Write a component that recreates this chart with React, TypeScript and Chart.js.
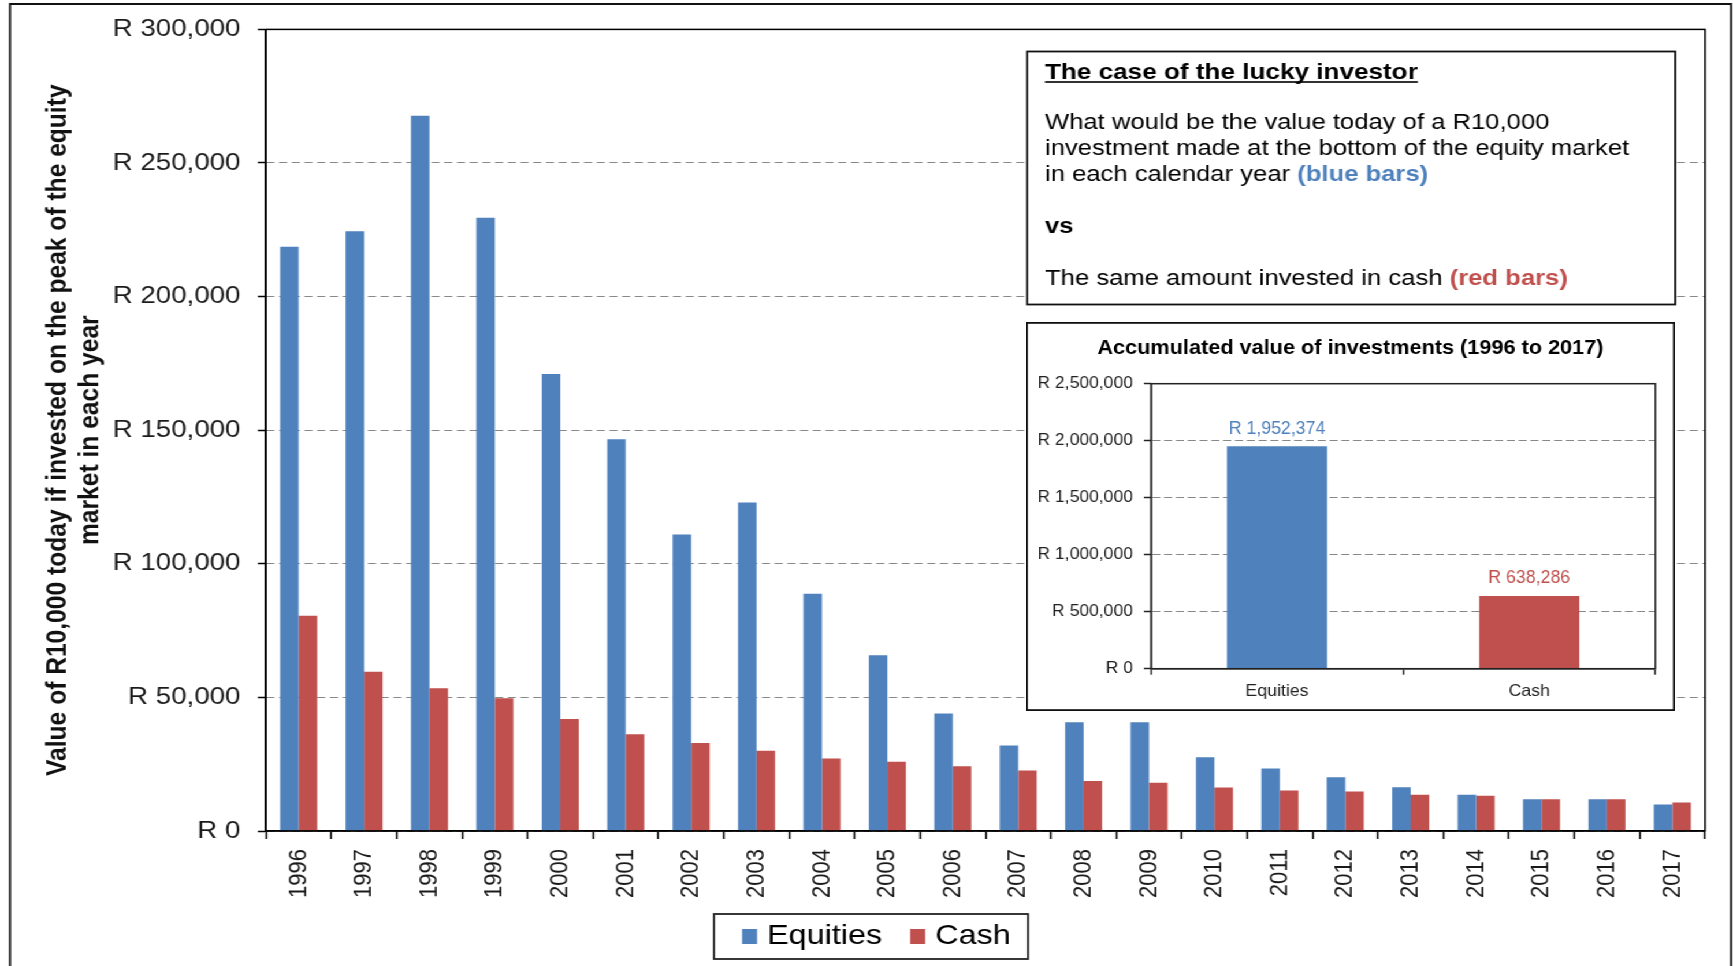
import React, { useEffect, useRef } from 'react';
import { Chart, registerables } from 'chart.js';

Chart.register(...registerables);

// ---------- data ----------
const years = ['1996', '1997', '1998', '1999', '2000', '2001', '2002', '2003', '2004', '2005', '2006',
  '2007', '2008', '2009', '2010', '2011', '2012', '2013', '2014', '2015', '2016', '2017'];
const equities = [218700, 224500, 267700, 229500, 171000, 146600, 111000, 122900, 88800, 65800, 44000,
  32000, 40700, 40700, 27600, 23400, 20100, 16400, 13600, 11900, 11900, 9900];
const cash = [80600, 59600, 53400, 49700, 41900, 36200, 32900, 30000, 27100, 25900, 24200,
  22600, 18700, 18100, 16300, 15200, 14800, 13600, 13200, 11900, 11900, 10700];
const seriesNames = ['Equities', 'Cash'];
const seriesColors = ['#4F81BD', '#C0504D'];
const yMax = 300000;
const yStep = 50000;
const yTitle = ['Value of R10,000 today if invested on the peak of the equity', 'market in each year'];

const totalCategories = ['Equities', 'Cash'];
const totalValues = [1952374, 638286];
const totalMax = 2500000;
const totalStep = 500000;
const insetTitle = 'Accumulated value of investments (1996 to 2017)';

const boxTitle = 'The case of the lucky investor';
const boxLines = ['What would be the value today of a R10,000', 'investment made at the bottom of the equity market'];
const boxLine3 = 'in each calendar year ';
const boxBlue = '(blue bars)';
const boxVs = 'vs';
const boxLast = 'The same amount invested in cash ';
const boxRed = '(red bars)';

// ---------- layout constants ----------
const W = 1500;
const H = 966;
const SX = 1733 / 1500;
const IX = 0.93;
const IW = 604;
const IH = 389;
const FONT = "'Liberation Sans', Arial, Helvetica, sans-serif";

const fmtR = (v: number | string) => 'R ' + Number(v).toLocaleString('en-US');

const mainDecor = {
  id: 'mainDecor',
  afterDraw(chart: any) {
    const ctx = chart.ctx as CanvasRenderingContext2D;
    const a = chart.chartArea;
    ctx.save();
    ctx.strokeStyle = '#000';
    ctx.lineWidth = 1.5;
    ctx.setLineDash([]);
    ctx.strokeRect(a.left, a.top, a.right - a.left, a.bottom - a.top);
    ctx.lineWidth = 1.8;
    ctx.strokeStyle = '#111';
    ctx.beginPath();
    ctx.moveTo(8.66, 975);
    ctx.lineTo(8.66, 4);
    ctx.lineTo(1498.3, 4);
    ctx.lineTo(1498.3, 975);
    ctx.stroke();

    const bx1 = 889, by1 = 51.5, bx2 = 1450, by2 = 304.5;
    ctx.fillStyle = '#fff';
    ctx.fillRect(bx1, by1, bx2 - bx1, by2 - by1);
    ctx.strokeStyle = '#111';
    ctx.lineWidth = 1.8;
    ctx.strokeRect(bx1, by1, bx2 - bx1, by2 - by1);
    const tx = 904.5;
    ctx.textAlign = 'left';
    ctx.textBaseline = 'alphabetic';
    ctx.fillStyle = '#000';
    ctx.font = `bold 22.6px ${FONT}`;
    ctx.fillText(boxTitle, tx, 79.3);
    const tw = ctx.measureText(boxTitle).width;
    ctx.fillRect(tx, 81.2, tw, 1.6);
    ctx.font = `22.2px ${FONT}`;
    ctx.fillText(boxLines[0], tx, 129.3);
    ctx.fillText(boxLines[1], tx, 155);
    ctx.fillText(boxLine3, tx, 180.7);
    const w3 = ctx.measureText(boxLine3).width;
    ctx.fillText(boxLast, tx, 285);
    const w5 = ctx.measureText(boxLast).width;
    ctx.font = `bold 22.2px ${FONT}`;
    ctx.fillStyle = '#4F81BD';
    ctx.fillText(boxBlue, tx + w3, 180.7);
    ctx.fillStyle = '#C0504D';
    ctx.fillText(boxRed, tx + w5, 285);
    ctx.fillStyle = '#000';
    ctx.fillText(boxVs, tx, 232.7);

    const lx1 = 618, ly1 = 914, lx2 = 889.8, ly2 = 959;
    ctx.strokeStyle = '#222';
    ctx.lineWidth = 1.8;
    ctx.strokeRect(lx1, ly1, lx2 - lx1, ly2 - ly1);
    ctx.font = `28px ${FONT}`;
    let x = 642.3;
    chart.data.datasets.forEach((ds: any) => {
      ctx.fillStyle = ds.backgroundColor;
      ctx.fillRect(x, 929, 13, 15);
      ctx.fillStyle = '#000';
      ctx.fillText(ds.label, x + 21.6, 944.3);
      x = x + 21.6 + ctx.measureText(ds.label).width + 24.3;
    });
    ctx.restore();
  },
};

const insetDecor = {
  id: 'insetDecor',
  beforeDraw(chart: any) {
    const ctx = chart.ctx as CanvasRenderingContext2D;
    ctx.save();
    ctx.fillStyle = '#fff';
    ctx.fillRect(0, 0, chart.width, chart.height);
    ctx.restore();
  },
  afterDraw(chart: any) {
    const ctx = chart.ctx as CanvasRenderingContext2D;
    const a = chart.chartArea;
    ctx.save();
    ctx.setLineDash([]);
    ctx.strokeStyle = '#222';
    ctx.lineWidth = 1.5;
    ctx.strokeRect(a.left, a.top, a.right - a.left, a.bottom - a.top);
    const meta = chart.getDatasetMeta(0);
    const ds = chart.data.datasets[0];
    ctx.textAlign = 'center';
    ctx.textBaseline = 'alphabetic';
    meta.data.forEach((el: any, i: number) => {
      const txt = fmtR(ds.data[i]);
      ctx.font = `16.5px ${FONT}`;
      const wTarget = ctx.measureText(txt).width;
      ctx.font = `18.5px ${FONT}`;
      ctx.fillStyle = ds.backgroundColor[i];
      ctx.fillText(txt, el.x, el.y - 12.5, wTarget);
    });
    ctx.fillStyle = '#000';
    ctx.font = `bold 20.5px ${FONT}`;
    ctx.textBaseline = 'middle';
    ctx.fillText(insetTitle, chart.width / 2, 26.7, 471);
    ctx.strokeStyle = '#111';
    ctx.lineWidth = 1.8;
    ctx.strokeRect(0.9, 0.9, chart.width - 1.8, chart.height - 1.8);
    ctx.restore();
  },
};

export default function App() {
  const mainRef = useRef<HTMLCanvasElement>(null);
  const insetRef = useRef<HTMLCanvasElement>(null);

  useEffect(() => {
    const main = new Chart(mainRef.current as HTMLCanvasElement, {
      type: 'bar',
      data: {
        labels: years,
        datasets: [
          { label: seriesNames[0], data: equities, backgroundColor: seriesColors[0], borderWidth: 0 },
          { label: seriesNames[1], data: cash, backgroundColor: seriesColors[1], borderWidth: 0 },
        ],
      },
      options: {
        responsive: false,
        animation: false,
        layout: { padding: { left: 30, right: 24.2, top: 25, bottom: 55 } },
        datasets: { bar: { categoryPercentage: 0.566, barPercentage: 1 } },
        plugins: { legend: { display: false }, tooltip: { enabled: false }, title: { display: false } },
        scales: {
          x: {
            offset: true,
            grid: { display: true, offset: true, drawOnChartArea: false, drawTicks: true, tickLength: 8, tickColor: '#000', tickWidth: 1.5 },
            border: { display: true, color: '#000', width: 1.5 },
            ticks: { font: { family: FONT, size: 22 }, color: '#1a1a1a', minRotation: 90, maxRotation: 90, autoSkip: false, padding: 10 },
            afterFit: (s: any) => { s.height = 80; },
          },
          y: {
            min: 0,
            max: yMax,
            ticks: { stepSize: yStep, font: { family: FONT, size: 24 }, color: '#1a1a1a', padding: 15, callback: (v: any) => fmtR(v) },
            grid: { color: '#888', lineWidth: 1, drawTicks: true, tickLength: 7, tickColor: '#000', tickWidth: 1.5, tickBorderDash: [] },
            border: { display: true, color: '#000', width: 1.5, dash: [7, 4] },
            title: {
              display: true,
              text: yTitle,
              color: '#111',
              font: { family: FONT, size: 24.6, weight: 'bold', lineHeight: 1.13 },
              padding: { top: 6.5, bottom: 0 },
            },
            afterFit: (s: any) => { s.width = 200.2; },
          },
        },
      } as any,
      plugins: [mainDecor],
    });

    const inset = new Chart(insetRef.current as HTMLCanvasElement, {
      type: 'bar',
      data: {
        labels: totalCategories,
        datasets: [{ label: 'Accumulated', data: totalValues, backgroundColor: seriesColors, borderWidth: 0 }],
      },
      options: {
        responsive: false,
        animation: false,
        layout: { padding: { left: 4, right: 18.2, top: 61.7, bottom: 0 } },
        datasets: { bar: { categoryPercentage: 0.397, barPercentage: 1 } },
        plugins: { legend: { display: false }, tooltip: { enabled: false }, title: { display: false } },
        scales: {
          x: {
            offset: true,
            grid: { display: true, offset: true, drawOnChartArea: false, drawTicks: true, tickLength: 6, tickColor: '#222', tickWidth: 1.5 },
            border: { display: true, color: '#222', width: 1.5 },
            ticks: { font: { family: FONT, size: 16.5 }, color: '#222', padding: 6.4, maxRotation: 0, minRotation: 0 },
            afterFit: (s: any) => { s.height = 42.3; },
          },
          y: {
            min: 0,
            max: totalMax,
            ticks: { stepSize: totalStep, font: { family: FONT, size: 16.3 }, color: '#222', padding: 10.3, callback: (v: any) => fmtR(v) },
            grid: { color: '#888', lineWidth: 1, drawTicks: true, tickLength: 6.5, tickColor: '#222', tickWidth: 1.5, tickBorderDash: [] },
            border: { display: true, color: '#222', width: 1.5, dash: [7.5, 3.5] },
            afterFit: (s: any) => { s.width = 112.3; },
          },
        },
      } as any,
      plugins: [insetDecor],
    });

    return () => {
      main.destroy();
      inset.destroy();
    };
  }, []);

  return (
    <div
      style={{
        position: 'absolute',
        left: 0,
        top: 0,
        width: W,
        height: H,
        transform: `scaleX(${SX})`,
        transformOrigin: '0 0',
        background: '#fff',
        overflow: 'hidden',
      }}
    >
      <canvas ref={mainRef} width={W} height={H} style={{ position: 'absolute', left: 0, top: 0, width: W, height: H }} />
      <div
        style={{
          position: 'absolute',
          left: 887.6,
          top: 322.3,
          width: IW,
          height: IH,
          transform: `scaleX(${IX})`,
          transformOrigin: '0 0',
        }}
      >
        <canvas ref={insetRef} width={IW} height={IH} style={{ display: 'block', width: IW, height: IH }} />
      </div>
    </div>
  );
}
